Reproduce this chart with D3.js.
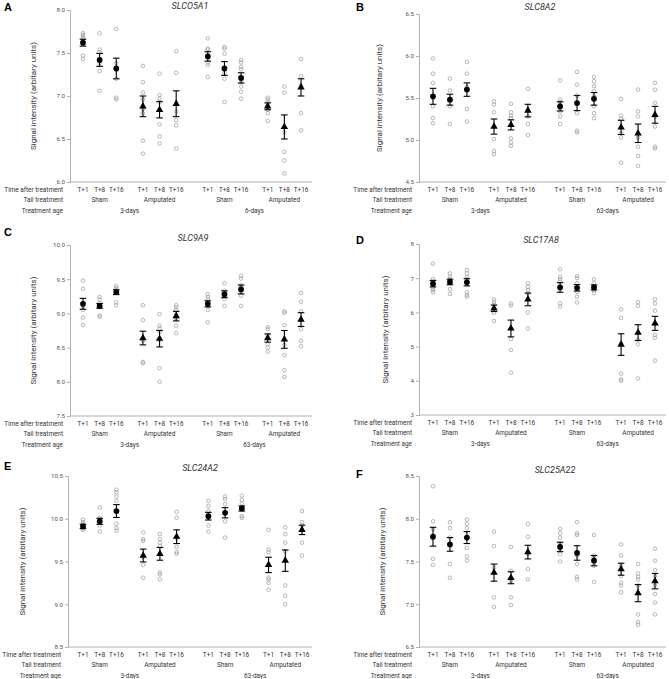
<!DOCTYPE html>
<html><head><meta charset="utf-8">
<script src="https://cdn.jsdelivr.net/npm/d3@7"></script>
<style>
html,body{margin:0;padding:0;background:#fff;}
svg{display:block;}
</style></head>
<body>
<svg id="chart" width="669" height="679"></svg>
<script>
// ---------- categories ----------
const timeLabels = ["T+1","T+8","T+16"];
const tailLabels = ["Sham","Amputated","Sham","Amputated"];
const agesA = ["3-days","6-days"];
const agesOther = ["3-days","63-days"];
const rowLabels = ["Time after treatment","Tail treatment","Treatment age"];
const yTitle = "Signal intensity (arbitary units)";

// ---------- SLCO5A1 ----------
const slco5a1Mean = [7.62,7.42,7.32,6.88,6.84,6.91,7.46,7.32,7.21,6.88,6.64,7.10];
const slco5a1Sem  = [0.04,0.075,0.12,0.12,0.095,0.15,0.055,0.08,0.06,0.04,0.14,0.10];
const slco5a1Points = [
 [7.73,7.71,7.69,7.67,7.47,7.43],
 [7.73,7.54,7.51,7.38,7.29,7.06],
 [7.78,7.38,7.30,7.20,6.98,6.96],
 [7.35,7.16,7.04,6.96,6.85,6.80,6.48,6.33],
 [7.26,7.01,6.97,6.93,6.67,6.53,6.45],
 [7.52,7.27,6.82,6.72,6.66,6.39],
 [7.67,7.55,7.54,7.39,7.36,7.22],
 [7.57,7.55,7.49,7.27,7.20,6.93],
 [7.42,7.39,7.34,7.31,7.17,7.11,7.05,6.97],
 [6.98,6.96,6.93,6.87,6.84,6.80,6.71],
 [7.11,7.04,6.58,6.35,6.25,6.10],
 [7.43,7.23,7.12,6.80,6.60]
];
const slco5a1Ticks = [6.0,6.5,7.0,7.5,8.0];

// ---------- SLC8A2 ----------
const slc8a2Mean = [5.52,5.48,5.60,5.16,5.18,5.35,5.40,5.44,5.49,5.15,5.08,5.30];
const slc8a2Sem  = [0.095,0.065,0.08,0.09,0.06,0.075,0.055,0.09,0.075,0.085,0.11,0.10];
const slc8a2Points = [
 [5.97,5.79,5.68,5.50,5.40,5.26,5.20],
 [5.73,5.59,5.49,5.40,5.19],
 [5.93,5.79,5.63,5.37,5.22],
 [5.46,5.42,5.33,5.01,4.87,4.83],
 [5.43,5.33,5.29,5.26,5.02,4.97,4.93],
 [5.61,5.36,5.28,5.19,5.06],
 [5.71,5.48,5.45,5.34,5.28,5.19],
 [5.81,5.66,5.53,5.43,5.32,5.11,5.09],
 [5.75,5.70,5.64,5.58,5.52,5.40,5.32,5.26],
 [5.49,5.29,5.25,5.08,5.03,4.73],
 [5.60,5.34,5.28,5.03,4.92,4.81,4.69],
 [5.68,5.60,5.44,5.28,5.16,4.92,4.90]
];
const slc8a2Ticks = [4.5,5.0,5.5,6.0,6.5];

// ---------- SLC9A9 ----------
const slc9a9Mean = [9.14,9.11,9.31,8.64,8.63,8.96,9.14,9.28,9.35,8.64,8.62,8.91];
const slc9a9Sem  = [0.08,0.035,0.035,0.10,0.12,0.07,0.045,0.05,0.065,0.06,0.13,0.10];
const slc9a9Points = [
 [9.48,9.36,9.10,9.05,8.94,8.83],
 [9.24,9.20,9.15,9.11,8.97,8.95],
 [9.40,9.37,9.34,9.30,9.16,9.12],
 [9.12,8.90,8.60,8.29,8.27],
 [8.99,8.82,8.78,8.73,8.61,8.20,8.00],
 [9.12,9.09,9.05,8.98,8.92,8.82,8.71],
 [9.28,9.24,9.20,9.15,9.11,9.05,8.87],
 [9.44,9.33,9.29,9.25,9.21,9.11],
 [9.55,9.51,9.41,9.38,9.26,9.11],
 [8.80,8.77,8.68,8.55,8.50,8.44],
 [9.03,9.01,8.83,8.54,8.39,8.17,8.07],
 [9.30,9.17,9.03,8.91,8.77,8.60,8.52]
];
const slc9a9Ticks = [7.5,8.0,8.5,9.0,9.5,10.0];

// ---------- SLC17A8 ----------
const slc17a8Mean = [6.84,6.89,6.88,6.12,5.53,6.38,6.73,6.72,6.73,5.06,5.41,5.68];
const slc17a8Sem  = [0.095,0.08,0.105,0.095,0.245,0.185,0.14,0.095,0.075,0.315,0.23,0.205];
const slc17a8Points = [
 [7.43,6.98,6.90,6.70,6.65,6.59],
 [7.14,7.04,6.97,6.85,6.68,6.54],
 [7.24,7.14,7.04,6.97,6.59,6.51,6.46],
 [6.38,6.31,6.23,6.12,5.99,5.75],
 [6.26,6.20,5.53,5.22,4.90,4.24],
 [6.85,6.75,6.65,6.56,6.00,5.53],
 [7.26,7.04,6.97,6.90,6.26,6.17],
 [7.06,7.00,6.85,6.60,6.46,6.29],
 [6.97,6.85,6.75,6.65,6.56],
 [6.09,5.84,5.09,4.21,4.04,4.00],
 [6.30,6.19,5.20,5.07,4.07],
 [6.38,6.26,6.05,5.66,5.34,5.26,4.59]
];
const slc17a8Ticks = [3,4,5,6,7,8];

// ---------- SLC24A2 ----------
const slc24a2Mean = [9.91,9.97,10.09,9.57,9.59,9.79,10.03,10.07,10.12,9.46,9.51,9.87];
const slc24a2Sem  = [0.025,0.035,0.075,0.075,0.075,0.08,0.045,0.06,0.03,0.09,0.125,0.055];
const slc24a2Points = [
 [9.99,9.96,9.94,9.91,9.89,9.87],
 [10.13,10.01,9.99,9.92,9.85],
 [10.34,10.31,10.26,10.21,9.94,9.89,9.86],
 [9.84,9.76,9.74,9.55,9.46,9.31],
 [9.82,9.76,9.72,9.68,9.37,9.35,9.29],
 [10.08,10.01,9.77,9.67,9.61,9.59],
 [10.21,10.15,10.09,10.01,9.92,9.85],
 [10.26,10.23,10.17,10.07,9.97,9.78],
 [10.27,10.22,10.18,10.12,10.03,10.01],
 [9.87,9.64,9.61,9.31,9.29,9.25,9.17],
 [9.90,9.82,9.72,9.62,9.22,9.10,9.00],
 [10.09,9.96,9.92,9.86,9.72,9.57]
];
const slc24a2Ticks = [8.5,9.0,9.5,10.0,10.5];

// ---------- SLC25A22 ----------
const slc25a22Mean = [7.79,7.70,7.78,7.37,7.31,7.61,7.67,7.60,7.51,7.41,7.13,7.27];
const slc25a22Sem  = [0.11,0.08,0.07,0.10,0.07,0.08,0.055,0.085,0.06,0.07,0.10,0.09];
const slc25a22Points = [
 [8.38,7.97,7.88,7.78,7.53,7.46],
 [7.96,7.89,7.78,7.47,7.31],
 [7.99,7.94,7.89,7.78,7.66,7.56,7.51],
 [7.85,7.68,7.43,7.08,6.97],
 [7.67,7.39,7.27,7.08,6.99],
 [7.94,7.79,7.59,7.41,7.29],
 [7.88,7.83,7.78,7.71,7.65,7.59,7.50],
 [7.96,7.83,7.81,7.57,7.47,7.32,7.29],
 [7.81,7.57,7.55,7.45,7.26],
 [7.70,7.57,7.45,7.33,7.25,7.22,7.14],
 [7.47,7.36,7.32,7.29,7.22,6.88,6.79,6.76],
 [7.65,7.51,7.40,7.33,7.22,7.12,7.02,6.88]
];
const slc25a22Ticks = [6.5,7.0,7.5,8.0,8.5];

// ---------- panel definitions (data) ----------
const panels = [
 {letter:"A", gene:"SLCO5A1",  mean:slco5a1Mean,  sem:slco5a1Sem,  points:slco5a1Points,  ticks:slco5a1Ticks,  ages:agesA,     fmt:".1f"},
 {letter:"B", gene:"SLC8A2",   mean:slc8a2Mean,   sem:slc8a2Sem,   points:slc8a2Points,   ticks:slc8a2Ticks,   ages:agesOther, fmt:".1f"},
 {letter:"C", gene:"SLC9A9",   mean:slc9a9Mean,   sem:slc9a9Sem,   points:slc9a9Points,   ticks:slc9a9Ticks,   ages:agesOther, fmt:".1f"},
 {letter:"D", gene:"SLC17A8",  mean:slc17a8Mean,  sem:slc17a8Sem,  points:slc17a8Points,  ticks:slc17a8Ticks,  ages:agesOther, fmt:"d"},
 {letter:"E", gene:"SLC24A2",  mean:slc24a2Mean,  sem:slc24a2Sem,  points:slc24a2Points,  ticks:slc24a2Ticks,  ages:agesOther, fmt:".1f"},
 {letter:"F", gene:"SLC25A22", mean:slc25a22Mean, sem:slc25a22Sem, points:slc25a22Points, ticks:slc25a22Ticks, ages:agesOther, fmt:".1f"}
];

// ---------- layout ----------
const layouts = [
 {ax:70,  top:10,  bot:182, first:83,  last:301, xEnd:312, ytX:33,  titleX:190, titleY:6,   lx:4,   ly:7},
 {ax:419, top:14,  bot:182, first:433, last:655, xEnd:666, ytX:379, titleX:540, titleY:7,   lx:356, ly:7},
 {ax:70,  top:245, bot:416, first:83,  last:301, xEnd:312, ytX:33,  titleX:193, titleY:238, lx:4,   ly:232},
 {ax:419, top:244, bot:415, first:433, last:655, xEnd:666, ytX:385, titleX:541, titleY:240, lx:356, ly:240},
 {ax:68,  top:476, bot:647, first:83,  last:302, xEnd:312, ytX:22,  titleX:200, titleY:468, lx:4,   ly:466},
 {ax:419, top:476, bot:647, first:433, last:655, xEnd:666, ytX:382, titleX:555, titleY:470, lx:356, ly:474}
];

const svg = d3.select("#chart");
const FONT = "Roboto, 'Liberation Sans', sans-serif";
const LABEL_SIZE = "6.4px";

// slot index of each of the 12 categories (group g, time i)
function slotOf(k){ const g = Math.floor(k/3), i = k%3; return g*3.6 + i + (g>=2 ? 0.3 : 0); }
const maxSlot = slotOf(11);

panels.forEach((p, pi) => {
  const L = layouts[pi];
  const g = svg.append("g");
  const y = d3.scaleLinear().domain([p.ticks[0], p.ticks[p.ticks.length-1]]).range([L.bot, L.top]);
  const x = d3.scaleLinear().domain([0, maxSlot]).range([L.first, L.last]);
  const cx = k => x(slotOf(k));

  // y axis
  const yAxis = d3.axisLeft(y).tickValues(p.ticks).tickFormat(d3.format(p.fmt)).tickSize(3).tickPadding(2);
  const ya = g.append("g").attr("transform", `translate(${L.ax},0)`).call(yAxis);
  ya.select(".domain").attr("stroke", "#b0b0b0").attr("stroke-width", 1);
  ya.selectAll(".tick line").attr("stroke", "#b0b0b0");
  ya.selectAll(".tick text").attr("fill", "#555").style("font-family", FONT).style("font-size", "6.2px");

  // x axis line
  g.append("line").attr("x1", L.ax).attr("x2", L.xEnd).attr("y1", L.bot).attr("y2", L.bot)
    .attr("stroke", "#b0b0b0").attr("stroke-width", 1);

  // y title
  g.append("text").attr("transform", `translate(${L.ytX},${(L.top+L.bot)/2}) rotate(-90)`)
    .attr("text-anchor","middle").attr("dominant-baseline","central")
    .style("font-family", FONT).style("font-size","8px").attr("fill","#333").text(yTitle);

  // gene title
  g.append("text").attr("x", L.titleX).attr("y", L.titleY).attr("text-anchor","middle").attr("dominant-baseline","central")
    .style("font-family", FONT).style("font-size","9px").style("font-style","italic").attr("fill","#333").text(p.gene);

  // panel letter
  g.append("text").attr("x", L.lx).attr("y", L.ly).attr("dominant-baseline","central")
    .style("font-family","'Liberation Sans', Arial, sans-serif").style("font-size","11px").style("font-weight","bold")
    .attr("fill","#000").text(p.letter);

  const rowY = r => L.bot + 8.2 + r*10.2;

  // row labels
  rowLabels.forEach((t, r) => {
    g.append("text").attr("x", L.ax - 7).attr("y", rowY(r)).attr("text-anchor","end").attr("dominant-baseline","central")
      .style("font-family", FONT).style("font-size", LABEL_SIZE).attr("fill","#333").text(t);
  });
  // time labels
  for (let k = 0; k < 12; k++) {
    g.append("text").attr("x", cx(k)).attr("y", rowY(0)).attr("text-anchor","middle").attr("dominant-baseline","central")
      .style("font-family", FONT).style("font-size", LABEL_SIZE).attr("fill","#333").text(timeLabels[k%3]);
  }
  // tail treatment labels
  tailLabels.forEach((t, gi) => {
    g.append("text").attr("x", cx(gi*3+1)).attr("y", rowY(1)).attr("text-anchor","middle").attr("dominant-baseline","central")
      .style("font-family", FONT).style("font-size", LABEL_SIZE).attr("fill","#333").text(t);
  });
  // age labels
  p.ages.forEach((t, ai) => {
    const xm = (cx(ai*6+1) + cx(ai*6+4))/2;
    g.append("text").attr("x", xm).attr("y", rowY(2)).attr("text-anchor","middle").attr("dominant-baseline","central")
      .style("font-family", FONT).style("font-size", LABEL_SIZE).attr("fill","#333").text(t);
  });

  // individual points
  p.points.forEach((vals, k) => {
    g.selectAll(null).data(vals).enter().append("circle")
      .attr("cx", cx(k)).attr("cy", d => y(d)).attr("r", 1.8)
      .attr("fill","#fff").attr("fill-opacity",0).attr("stroke","#9a9a9a").attr("stroke-width",0.7);
  });

  // error bars
  p.mean.forEach((m, k) => {
    const s = p.sem[k], X = cx(k), hw = 3.3;
    const eb = g.append("g").attr("stroke","#000").attr("stroke-width",1.1);
    eb.append("line").attr("x1",X).attr("x2",X).attr("y1",y(m+s)).attr("y2",y(m-s));
    eb.append("line").attr("x1",X-hw).attr("x2",X+hw).attr("y1",y(m+s)).attr("y2",y(m+s));
    eb.append("line").attr("x1",X-hw).attr("x2",X+hw).attr("y1",y(m-s)).attr("y2",y(m-s));
  });

  // mean markers
  p.mean.forEach((m, k) => {
    const grp = Math.floor(k/3);
    const sym = (grp % 2 === 0) ? d3.symbolCircle : d3.symbolTriangle;
    const size = (grp % 2 === 0) ? 26 : 24;
    g.append("path").attr("d", d3.symbol().type(sym).size(size)())
      .attr("transform", `translate(${cx(k)},${y(m)})`).attr("fill","#000");
  });
});
</script>
</body></html>
